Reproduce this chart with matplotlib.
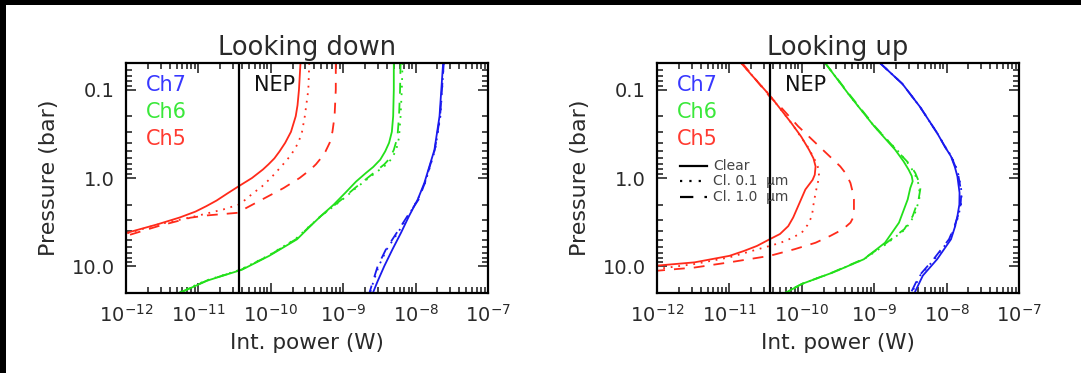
import matplotlib
matplotlib.use('Agg')
import matplotlib.pyplot as plt
from matplotlib.patches import Rectangle
from matplotlib.ticker import LogLocator, NullFormatter

plt.rcParams['font.family'] = ['DejaVu Sans']

NEP = 3.6e-11

# ---- Looking down ----
down_ch5_clear_p = [0.05, 0.1, 0.15, 0.2, 0.3, 0.4, 0.5, 0.6, 0.7, 0.8, 1.0, 1.24, 1.5, 1.8,
                    2.08, 2.4, 2.8, 3.35, 4.15, 5.0]
down_ch5_clear = [2.57e-10, 2.45e-10, 2.34e-10, 2.21e-10, 1.9e-10, 1.58e-10, 1.32e-10, 1.12e-10,
                  9.3e-11, 7.8e-11, 5.5e-11, 3.6e-11, 2.5e-11, 1.78e-11, 1.29e-11, 9.1e-12,
                  5.5e-12, 2.7e-12, 1.05e-12, 4e-13]
down_ch5_cl01_p = [0.05, 0.1, 0.2, 0.3, 0.4, 0.55, 0.7, 0.85, 1.0, 1.24, 1.5, 1.75, 2.0, 2.27,
                   2.6, 2.9, 3.35, 4.15, 5.0]
down_ch5_cl01 = [3.4e-10, 3.3e-10, 2.95e-10, 2.7e-10, 2.4e-10, 1.9e-10, 1.48e-10, 1.2e-10,
                 1.0e-10, 7.6e-11, 5.6e-11, 4.5e-11, 3.6e-11, 2.2e-11, 1.12e-11, 6.3e-12,
                 2.8e-12, 1.12e-12, 5e-13]
down_ch5_cl10_p = [0.05, 0.1, 0.2, 0.3, 0.4, 0.5, 0.6, 0.7, 0.8, 1.0, 1.3, 1.75, 2.2, 2.47,
                   2.65, 2.81, 3.5, 4.4, 5.3]
down_ch5_cl10 = [7.9e-10, 7.9e-10, 7.6e-10, 7.1e-10, 6.5e-10, 5.7e-10, 4.9e-10, 4.2e-10,
                 3.55e-10, 2.5e-10, 1.5e-10, 7.6e-11, 4.5e-11, 3.6e-11, 1.32e-11, 7.8e-12,
                 2.8e-12, 1.12e-12, 5e-13]

down_ch6_clear_p = [0.05, 0.1, 0.2, 0.3, 0.4, 0.5, 0.62, 0.75, 0.88, 1.1, 1.47, 2.0, 2.7, 3.6,
                    4.94, 7.6, 10.9, 14.5, 20]
down_ch6_clear = [5.0e-9, 5.0e-9, 4.9e-9, 4.7e-9, 4.3e-9, 3.8e-9, 3.25e-9, 2.6e-9, 2.05e-9,
                  1.5e-9, 1.07e-9, 7.4e-10, 4.9e-10, 3.4e-10, 2.3e-10, 9.5e-11, 4.0e-11,
                  1.32e-11, 5.5e-12]
down_ch6_p = [0.05, 0.1, 0.2, 0.35, 0.48, 0.6, 0.7, 0.96, 1.3, 1.75, 2.7, 3.6, 4.9, 7.6, 10.9,
              14.5, 20]
down_ch6_cl01 = [6.6e-9, 6.45e-9, 6.2e-9, 5.9e-9, 5.4e-9, 4.7e-9, 4.0e-9, 2.4e-9, 1.5e-9,
                 9.8e-10, 4.9e-10, 3.3e-10, 2.2e-10, 9.1e-11, 3.8e-11, 1.26e-11, 5.2e-12]
down_ch6_cl10 = [6.2e-9, 6.1e-9, 5.9e-9, 5.6e-9, 5.0e-9, 4.4e-9, 3.7e-9, 2.3e-9, 1.45e-9,
                 9.5e-10, 4.9e-10, 3.35e-10, 2.25e-10, 9.3e-11, 3.9e-11, 1.3e-11, 5.4e-12]

down_ch7_p = [0.05, 0.2, 0.48, 1.14, 1.75, 2.7, 4.15, 6.4, 9.9, 15.1, 20]
down_ch7_clear = [2.4e-8, 2.14e-8, 1.82e-8, 1.32e-8, 1.07e-8, 8.1e-9, 6.3e-9, 4.8e-9, 3.7e-9,
                  2.95e-9, 2.57e-9]
down_ch7_cl01 = [2.45e-8, 2.2e-8, 1.86e-8, 1.35e-8, 1.07e-8, 7.9e-9, 5.7e-9, 4.0e-9, 3.1e-9,
                 2.6e-9, 2.35e-9]
down_ch7_cl10 = [2.45e-8, 2.18e-8, 1.84e-8, 1.34e-8, 1.1e-8, 7.7e-9, 5.5e-9, 3.9e-9, 3.0e-9,
                 2.55e-9, 2.3e-9]

# ---- Looking up ----
up_ch5_clear_p = [0.05, 0.08, 0.116, 0.17, 0.24, 0.34, 0.48, 0.6, 0.74, 0.92, 1.05, 1.35, 2.08,
                  2.8, 3.5, 4.3, 4.93, 5.87, 6.7, 7.6, 9.0, 9.8, 10.5]
up_ch5_clear = [1.45e-11, 2.4e-11, 3.6e-11, 5.2e-11, 7.2e-11, 9.8e-11, 1.26e-10, 1.45e-10,
                1.55e-10, 1.51e-10, 1.41e-10, 1.12e-10, 8.9e-11, 7.6e-11, 6.5e-11, 5.0e-11,
                3.6e-11, 2.4e-11, 1.58e-11, 1.0e-11, 3.3e-12, 1.0e-12, 4e-13]
up_ch5_cl01_p = [0.05, 0.116, 0.24, 0.44, 0.6, 0.74, 0.96, 1.47, 2.0, 2.7, 3.4, 4.15, 4.8, 5.4,
                 5.87, 6.8, 7.9, 9.4, 10.7, 11.5]
up_ch5_cl01 = [1.45e-11, 3.6e-11, 7.2e-11, 1.2e-10, 1.48e-10, 1.66e-10, 1.74e-10, 1.55e-10,
               1.45e-10, 1.38e-10, 1.2e-10, 1.0e-10, 7.2e-11, 5.1e-11, 3.6e-11, 1.9e-11,
               1.0e-11, 3.3e-12, 1.0e-12, 4e-13]
up_ch5_cl10_p = [0.05, 0.08, 0.12, 0.157, 0.26, 0.36, 0.48, 0.6, 0.74, 0.9, 1.14, 1.4, 1.75,
                 2.7, 3.2, 3.8, 4.5, 5.4, 6.4, 7.6, 9.0, 10.3, 11.2, 12.0]
up_ch5_cl10 = [1.5e-11, 2.4e-11, 3.6e-11, 5.1e-11, 8.9e-11, 1.35e-10, 1.95e-10, 2.6e-10,
               3.4e-10, 4.1e-10, 4.7e-10, 5.0e-10, 5.25e-10, 5.25e-10, 4.7e-10, 3.7e-10,
               2.5e-10, 1.55e-10, 7.9e-11, 3.6e-11, 1.0e-11, 3.3e-12, 1.0e-12, 4e-13]

up_ch6_clear_p = [0.05, 0.12, 0.26, 0.48, 0.65, 0.81, 0.95, 1.09, 1.3, 1.75, 3.2, 5.4, 8.3,
                  11.7, 15.8, 20]
up_ch6_clear = [2.1e-10, 4.7e-10, 1.0e-9, 1.95e-9, 2.55e-9, 3.0e-9, 3.3e-9, 3.4e-9, 3.15e-9,
                2.9e-9, 2.2e-9, 1.41e-9, 7.2e-10, 2.7e-10, 1.0e-10, 5.9e-11]
up_ch6_p = [0.05, 0.12, 0.26, 0.52, 0.7, 0.88, 1.24, 1.75, 2.7, 3.8, 5.87, 8.3, 11.7, 15.8, 20]
up_ch6_cl01 = [2.1e-10, 4.7e-10, 1.0e-9, 2.25e-9, 3.0e-9, 3.6e-9, 4.2e-9, 4.2e-9, 3.55e-9,
               2.7e-9, 1.35e-9, 7.2e-10, 2.7e-10, 1.0e-10, 5.9e-11]
up_ch6_cl10 = [2.1e-10, 4.8e-10, 1.02e-9, 2.2e-9, 3.1e-9, 3.7e-9, 4.4e-9, 4.1e-9, 3.4e-9,
               2.6e-9, 1.3e-9, 7.0e-10, 2.65e-10, 1.0e-10, 5.8e-11]

up_ch7_p = [0.05, 0.086, 0.157, 0.31, 0.45, 0.57, 0.75, 0.96, 1.47, 2.0, 2.7, 3.6, 4.93, 8.3,
            12.7, 20]
up_ch7_clear = [1.2e-9, 2.45e-9, 4.3e-9, 7.4e-9, 9.6e-9, 1.15e-8, 1.3e-8, 1.41e-8, 1.51e-8,
                1.5e-8, 1.41e-8, 1.3e-8, 1.15e-8, 7.4e-9, 4.7e-9, 3.6e-9]
up_ch7_cl01 = [1.2e-9, 2.45e-9, 4.3e-9, 7.4e-9, 9.7e-9, 1.17e-8, 1.35e-8, 1.48e-8, 1.62e-8,
               1.58e-8, 1.45e-8, 1.3e-8, 1.1e-8, 6.8e-9, 4.3e-9, 3.3e-9]
up_ch7_cl10 = [1.2e-9, 2.45e-9, 4.3e-9, 7.4e-9, 9.6e-9, 1.16e-8, 1.33e-8, 1.46e-8, 1.6e-8,
               1.56e-8, 1.43e-8, 1.27e-8, 1.08e-8, 6.6e-9, 4.2e-9, 3.2e-9]

channels = ['Ch7', 'Ch6', 'Ch5']
cases = ['Clear', 'Cl. 0.1 \u03bcm', 'Cl. 1.0 \u03bcm']
case_labels = ['Clear', 'Cl. 0.1  \u03bcm', 'Cl. 1.0  \u03bcm']

RED = '#ff2a1a'
GREEN = '#22e01a'
BLUE = '#1a1aee'
label_colors = {'Ch7': '#3838ff', 'Ch6': '#3ae83a', 'Ch5': '#ff3a30'}
styles = {'Clear': '-', 'Cl. 0.1 \u03bcm': (0, (1, 3.2)), 'Cl. 1.0 \u03bcm': (0, (6, 5))}

down_curves = [
    (down_ch5_clear_p, down_ch5_clear, RED, 'Clear'),
    (down_ch5_cl01_p, down_ch5_cl01, RED, 'Cl. 0.1 \u03bcm'),
    (down_ch5_cl10_p, down_ch5_cl10, RED, 'Cl. 1.0 \u03bcm'),
    (down_ch6_clear_p, down_ch6_clear, GREEN, 'Clear'),
    (down_ch6_p, down_ch6_cl01, GREEN, 'Cl. 0.1 \u03bcm'),
    (down_ch6_p, down_ch6_cl10, GREEN, 'Cl. 1.0 \u03bcm'),
    (down_ch7_p, down_ch7_clear, BLUE, 'Clear'),
    (down_ch7_p, down_ch7_cl01, BLUE, 'Cl. 0.1 \u03bcm'),
    (down_ch7_p, down_ch7_cl10, BLUE, 'Cl. 1.0 \u03bcm'),
]
up_curves = [
    (up_ch5_clear_p, up_ch5_clear, RED, 'Clear'),
    (up_ch5_cl01_p, up_ch5_cl01, RED, 'Cl. 0.1 \u03bcm'),
    (up_ch5_cl10_p, up_ch5_cl10, RED, 'Cl. 1.0 \u03bcm'),
    (up_ch6_clear_p, up_ch6_clear, GREEN, 'Clear'),
    (up_ch6_p, up_ch6_cl01, GREEN, 'Cl. 0.1 \u03bcm'),
    (up_ch6_p, up_ch6_cl10, GREEN, 'Cl. 1.0 \u03bcm'),
    (up_ch7_p, up_ch7_clear, BLUE, 'Clear'),
    (up_ch7_p, up_ch7_cl01, BLUE, 'Cl. 0.1 \u03bcm'),
    (up_ch7_p, up_ch7_cl10, BLUE, 'Cl. 1.0 \u03bcm'),
]

TXT = '#2a2a2a'

fig = plt.figure(figsize=(10.81, 3.73), dpi=100)
fig.patch.set_facecolor('white')
# black strips along the top and left edge
fig.patches.append(Rectangle((0, 1 - 5 / 373), 1, 5 / 373, transform=fig.transFigure,
                             facecolor='black', edgecolor='none', zorder=10))
fig.patches.append(Rectangle((0, 0), 6 / 1081, 1, transform=fig.transFigure,
                             facecolor='black', edgecolor='none', zorder=10))

ax1 = fig.add_axes([126 / 1081, 80 / 373, 362 / 1081, 230 / 373])
ax2 = fig.add_axes([657 / 1081, 80 / 373, 362 / 1081, 230 / 373])

for ax, curves, title in [(ax1, down_curves, 'Looking down'), (ax2, up_curves, 'Looking up')]:
    for p, w, c, case in curves:
        ax.plot(w, p, color=c, linestyle=styles[case], linewidth=1.3)
    ax.axvline(NEP, color='black', linewidth=1.6)

    ax.set_xscale('log')
    ax.set_yscale('log')
    ax.set_xlim(1e-12, 1e-7)
    ax.set_ylim(20, 0.05)
    ax.set_yticks([0.1, 1.0, 10.0])
    ax.set_yticklabels(['0.1', '1.0', '10.0'])
    ax.yaxis.set_minor_locator(LogLocator(base=10, subs=range(2, 10), numticks=20))
    ax.yaxis.set_minor_formatter(NullFormatter())
    ax.xaxis.set_major_locator(LogLocator(base=10, numticks=10))
    ax.xaxis.set_minor_locator(LogLocator(base=10, subs=range(2, 10), numticks=20))
    ax.xaxis.set_minor_formatter(NullFormatter())
    ax.tick_params(which='both', direction='in', top=True, right=True, labelsize=14,
                   colors=TXT, width=1.2)
    ax.tick_params(which='major', length=7, pad=8)
    ax.tick_params(which='minor', length=4)
    for s in ax.spines.values():
        s.set_linewidth(1.6)

    ax.set_title(title, fontsize=18.5, pad=6, color=TXT)
    ax.set_xlabel('Int. power (W)', fontsize=15.5, labelpad=5, color=TXT)
    ax.set_ylabel('Pressure (bar)', fontsize=16, labelpad=9, color=TXT)

    for i, ch in enumerate(channels):
        ax.text(0.056, 0.905 - i * 0.118, ch, transform=ax.transAxes, fontsize=15,
                color=label_colors[ch], va='center', ha='left')
    ax.text(0.354, 0.905, 'NEP', transform=ax.transAxes, fontsize=15,
            color='#111111', va='center', ha='left')

# line style key in the right panel
for i, case in enumerate(cases):
    y = 0.553 - i * 0.067
    ax2.plot([0.063, 0.139], [y, y], transform=ax2.transAxes, color='black',
             linestyle=styles[case], linewidth=1.6)
    ax2.text(0.156, y, case_labels[i], transform=ax2.transAxes, fontsize=10,
             color='#444444', va='center', ha='left')

fig.savefig('out.png', dpi=100)
